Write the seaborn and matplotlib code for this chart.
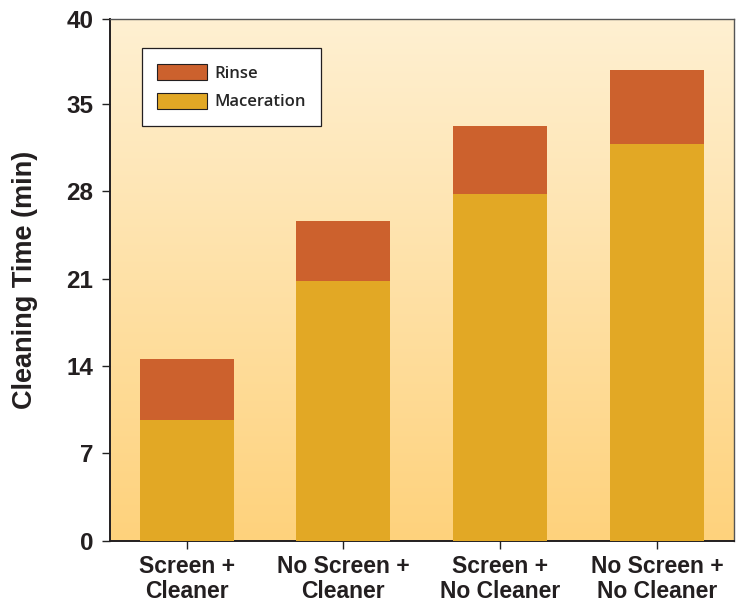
import numpy as np
import pandas as pd
import seaborn as sns
import matplotlib.pyplot as plt
from matplotlib.patches import Patch

# data
categories = ["Screen +\nCleaner", "No Screen +\nCleaner", "Screen +\nNo Cleaner", "No Screen +\nNo Cleaner"]
maceration = [9.7, 20.8, 27.8, 31.8]
rinse = [4.9, 4.8, 5.4, 5.9]
ytick_values = [0, 7, 14, 21, 28, 35, 41.8]
ytick_labels = ["0", "7", "14", "21", "28", "35", "40"]

rinse_color = "#CC612D"
mac_color = "#E2A825"

df = pd.DataFrame({"group": categories, "maceration": maceration, "rinse": rinse})
df["total"] = df["maceration"] + df["rinse"]

sns.set_theme(style="white")
plt.rcParams["font.family"] = ["Liberation Sans", "DejaVu Sans"]

fig = plt.figure(figsize=(7.42, 6.05), dpi=100)
ax = fig.add_axes([0.148, 0.106, 0.841, 0.863])

# stacked bars: total first, maceration drawn on top
sns.barplot(data=df, x="group", y="total", color=rinse_color, saturation=1, width=0.6,
            linewidth=0, ax=ax, zorder=2)
sns.barplot(data=df, x="group", y="maceration", color=mac_color, saturation=1, width=0.6,
            linewidth=0, ax=ax, zorder=3)

ax.set_xlim(-0.49, 3.49)
ax.set_ylim(0, ytick_values[-1])

# gradient background inside axes
grad = np.linspace(0, 1, 256).reshape(-1, 1)
cmap = sns.blend_palette(["#FED27C", "#FFF0D2"], as_cmap=True)
ax.imshow(grad, extent=[-0.49, 3.49, 0, ytick_values[-1]], origin="lower", aspect="auto", cmap=cmap, zorder=0)

ax.set_yticks(ytick_values)
ax.set_yticklabels(ytick_labels)
ax.tick_params(axis="both", which="both", direction="out", length=6, width=1, color="#222222",
               left=True, bottom=True)
ax.tick_params(axis="y", labelsize=17.5, pad=6)
ax.tick_params(axis="x", labelsize=16.5, pad=4)
for lbl in ax.get_xticklabels() + ax.get_yticklabels():
    lbl.set_fontweight("bold")
    lbl.set_color("#231F20")
for lbl in ax.get_xticklabels():
    lbl.set_linespacing(1.12)

ax.set_xlabel("")
ax.set_ylabel("Cleaning Time (min)", fontsize=19.5, fontweight="bold", color="#231F20", labelpad=20)

for side in ["left", "bottom"]:
    ax.spines[side].set_color("#231F20")
    ax.spines[side].set_linewidth(1.4)
for side in ["top", "right"]:
    ax.spines[side].set_color("#555555")
    ax.spines[side].set_linewidth(1.0)

handles = [Patch(facecolor=rinse_color, edgecolor="#231F20", linewidth=0.8, label="Rinse"),
           Patch(facecolor=mac_color, edgecolor="#231F20", linewidth=0.8, label="Maceration")]
leg = ax.legend(handles=handles, loc="upper left", bbox_to_anchor=(0.051, 0.944), borderaxespad=0,
                frameon=True, fancybox=False, edgecolor="#231F20", framealpha=1, borderpad=0.95,
                handlelength=3.0, handleheight=1.15, labelspacing=0.65, handletextpad=0.4,
                prop={"family": "Open Sans", "weight": "semibold", "size": 12})
leg.get_frame().set_linewidth(0.9)

fig.savefig("out.png", dpi=100, facecolor="white")
